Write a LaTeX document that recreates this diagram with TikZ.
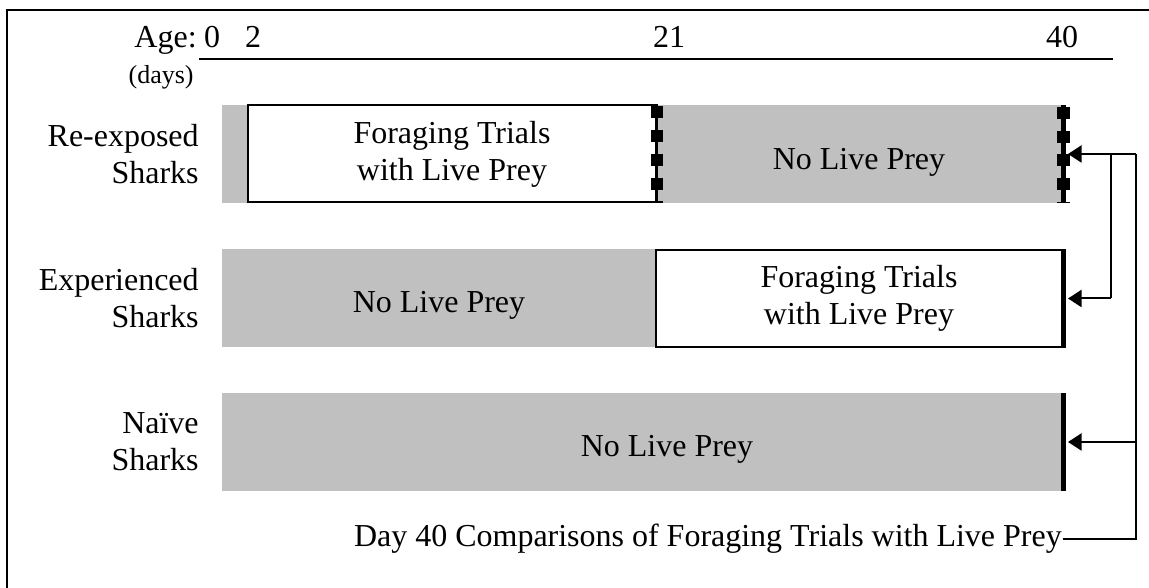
\documentclass[tikz,border=0pt]{standalone}
\usepackage{fontspec}
\setmainfont{Liberation Serif}
\usetikzlibrary{positioning,arrows.meta}
\definecolor{shadegrey}{HTML}{C0C0C0}

\begin{document}
\begin{tikzpicture}[
    every node/.style={font=\fontsize{18.2pt}{21pt}\selectfont},
    bar/.style={fill=shadegrey, inner sep=0pt, outer sep=0pt, minimum height=1.96cm},
    trial/.style={draw, line width=0.04cm, fill=white, align=center, inner sep=0pt, minimum height=1.94cm},
    group/.style={align=right, anchor=east, inner sep=0pt},
    tick/.style={anchor=base, inner sep=0pt},
    squares/.style={postaction={draw, line width=0.25cm, dash pattern=on 0.24cm off 0.234cm, dash phase=0.434cm}},
    endline/.style={line width=0.1cm},
    arr/.style={-{Triangle[length=0.27cm, width=0.34cm]}, line width=0.04cm}]
  \useasboundingbox[fill=white] (0,0) rectangle (22.98,11.76);
  \draw[line width=0.03cm] (0.14,0) -- (0.14,11.56) -- (22.98,11.56);
  \node[tick, anchor=base east] (age) at (3.94,10.8) {Age:};
  \node[tick] (d0) at (4.24,10.8) {0};
  \node[tick] (d2) at (5.06,10.8) {2};
  \node[tick] (d21) at (13.38,10.8) {21};
  \node[tick] (d40) at (21.24,10.8) {40};
  \node[anchor=east, inner sep=0pt, font=\fontsize{14.8pt}{17pt}\selectfont] (days) at (3.88,10.22) {(days)};
  \draw[line width=0.04cm] (3.98,10.58) -- (22.26,10.58);
  \node[bar, minimum width=16.8cm] (re) at (12.84,8.68) {};
  \node[trial, minimum width=8.16cm] (reTrial) at (9.04,8.68) {Foraging Trials\\with Live Prey};
  \node (reNone) at (17.18,8.52) {No Live Prey};
  \node[bar, minimum width=8.68cm] (ex) at (8.78,5.79) {};
  \node (exNone) at (8.78,5.65) {No Live Prey};
  \node[trial, minimum width=8.12cm] (exTrial) at (17.18,5.79) {Foraging Trials\\with Live Prey};
  \node[bar, minimum width=16.8cm] (na) at (12.84,2.92) {};
  \node (naNone) at (13.34,2.78) {No Live Prey};
  \node[group] (reLabel) at (3.98,8.68) {Re-exposed\\Sharks};
  \node[group] (exLabel) at (3.98,5.79) {Experienced\\Sharks};
  \node[group] (naLabel) at (3.98,2.92) {Naïve\\Sharks};
  \draw[line width=0.04cm, squares] (reTrial.north east) -- (reTrial.south east);
  \draw[endline, squares] (21.27,9.66) -- (21.27,7.7);
  \draw[endline] (exTrial.north east) -- (exTrial.south east);
  \draw[endline] ([xshift=0.03cm]na.north east) -- ([xshift=0.03cm]na.south east);
  \node[anchor=east, inner sep=0.5pt] (cmp) at (21.26,0.98) {Day 40 Comparisons of Foraging Trials with Live Prey};
  \coordinate (reTip) at (21.36,8.68);
  \coordinate (exTip) at (21.36,5.79);
  \coordinate (naTip) at (21.36,2.92);
  \coordinate (outerTop) at (22.72,8.68);
  \coordinate (innerTop) at (22.22,8.68);
  \coordinate (innerBot) at (22.22,5.79);
  \coordinate (outerNa) at (22.72,2.92);
  \coordinate (outerBot) at (22.72,0.98);
  \draw[line width=0.04cm] (cmp.east) -- (outerBot) -- (outerTop);
  \draw[line width=0.055cm] (innerTop) -- (innerBot);
  \foreach \a/\b in {outerTop/reTip, innerBot/exTip, outerNa/naTip} { \draw[arr] (\a) -- (\b); }
\end{tikzpicture}
\end{document}
